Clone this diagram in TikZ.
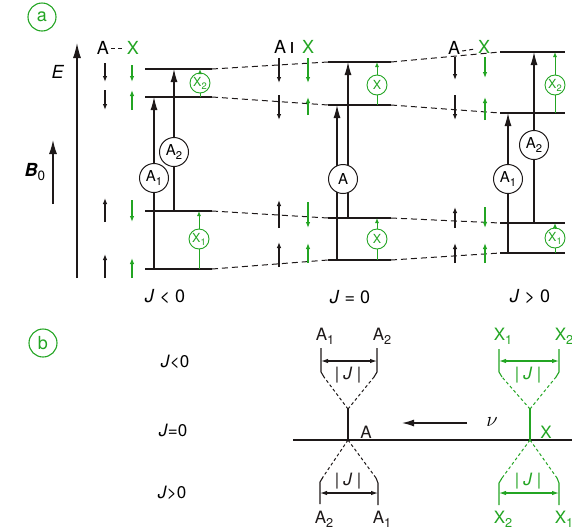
\documentclass[tikz,border=0pt]{standalone}
\usepackage{fontspec}
\setmainfont{TeX Gyre Heros}
\usepackage{graphicx}
\usetikzlibrary{arrows.meta}
\definecolor{grn}{RGB}{35,165,35}
\definecolor{ink}{RGB}{30,25,25}
\newcommand{\lo}[1]{\raisebox{-0.45ex}{\scalebox{0.75}{#1}}}
\newcommand{\absJ}{\textbar\hspace{0.25em}\textit{J}\hspace{0.25em}\textbar}
\begin{document}
\begin{tikzpicture}[x=1pt,y=-1pt,
 lev/.style={ink,line width=1.4pt},
 dsh/.style={ink,line width=1pt,dash pattern=on 6pt off 4pt},
 shortdsh/.style={line width=1pt,dash pattern=on 4pt off 3pt},
 tr/.style={ink,line width=1.1pt,-{Latex[length=13pt,width=7pt]}},
 trline/.style={ink,line width=1.1pt},
 trg/.style={grn,line width=1pt,-{Latex[length=5pt,width=4pt]}},
 trgline/.style={grn,line width=1pt},
 spin/.style={ink,line width=1.1pt,-{Latex[length=6pt,width=4.5pt]}},
 spg/.style={grn,line width=1.1pt,-{Latex[length=6pt,width=4.5pt]}},
 acirc/.style={circle,draw=ink,fill=white,line width=1pt,minimum size=29pt,inner sep=0pt,font=\fontsize{15}{15}\selectfont},
 xcirc/.style={circle,draw=grn,fill=white,line width=0.9pt,minimum size=20pt,inner sep=0pt,text=grn,font=\fontsize{12.5}{12.5}\selectfont},
 lbl/.style={inner sep=0pt,font=\fontsize{18}{18}\selectfont},
 blbl/.style={inner sep=0pt,font=\fontsize{17}{17}\selectfont},
 tag/.style={circle,draw=grn,text=grn,line width=1.1pt,minimum size=28pt,inner sep=0pt,font=\fontsize{18}{18}\selectfont},
 dotl/.style={dash pattern=on 3pt off 2.5pt,line width=1pt},
 br/.style={line width=1.1pt},
 dbl/.style={line width=1.1pt,{Latex[length=7pt,width=4.5pt]}-{Latex[length=7pt,width=4.5pt]}},
]
\useasboundingbox (0,0) rectangle (572,531);

% ---------------- panel a ----------------
\node[tag] (taga) at (42,17) {a};

% energy axis and B0
\coordinate (Ebot) at (77,278);
\coordinate (Etop) at (77,43);
\draw[ink,line width=1.2pt,-{Latex[length=15pt,width=8pt]}] (Ebot) -- (Etop);
\node[lbl] (Elab) at (58,72) {\textit{E}};
\coordinate (Bbot) at (53,204);
\coordinate (Btop) at (53,140);
\draw[ink,line width=1.2pt,-{Latex[length=14pt,width=8pt]}] (Bbot) -- (Btop);
\node[lbl] (Blab) at (35,172) {\textbf{\textit{B}}\lo{0}};

% level end points
\foreach \n/\y in {1/269,2/211,3/97,4/69}{
  \coordinate (a\n-l) at (145,\y); \coordinate (a\n-r) at (212,\y);}
\foreach \n/\y in {1/260,2/218,3/105,4/62}{
  \coordinate (b\n-l) at (328,\y); \coordinate (b\n-r) at (391,\y);}
\foreach \n/\y in {1/253,2/223,3/113,4/52}{
  \coordinate (c\n-l) at (500,\y); \coordinate (c\n-r) at (565,\y);}

% dashed correlation lines
\foreach \n in {1,2,3,4}{
  \draw[dsh] (a\n-r) -- (b\n-l);
  \draw[dsh] (b\n-r) -- (c\n-l);}

% levels
\foreach \n in {1,2,3,4}{
  \draw[lev] (a\n-l) -- (a\n-r);
  \draw[lev] (b\n-l) -- (b\n-r);
  \draw[lev] (c\n-l) -- (c\n-r);}

% column labels
\node[lbl] (lA1) at (103,48) {A};
\node[lbl,text=grn] (lX1) at (133,48) {X};
\draw[ink,shortdsh] ([xshift=2pt]lA1.east) -- ([xshift=-3pt]lX1.west);
\node[lbl] (lA2) at (280,47) {A};
\node[lbl,text=grn] (lX2) at (308,47) {X};
\coordinate (bar1) at (292,42); \coordinate (bar2) at (292,53);
\draw[ink,line width=1.1pt] (bar1) -- (bar2);
\node[lbl] (lA3) at (454,48) {A};
\node[lbl,text=grn] (lX3) at (484,47) {X};
\draw[ink,shortdsh] ([xshift=2pt,yshift=-3pt]lA3.east) -- ([xshift=-3pt,yshift=-2pt]lX3.west);

% spin arrows
\foreach \x/\ya/\yb in {105/63/82, 105/90/110, 105/222/198, 105/278/254,
                       279/58/83, 279/95/120, 279/228/200, 279/267/242,
                       455/57/80, 455/95/120, 455/228/207, 455/263/243}{
  \draw[spin] (\x,\ya) -- (\x,\yb);}
\foreach \x/\ya/\yb in {132/65/82, 132/110/90, 132/200/222, 132/278/258,
                       308/58/83, 308/115/97, 308/202/228, 308/263/243,
                       485/57/78, 485/120/97, 485/207/228, 485/263/243}{
  \draw[spg] (\x,\ya) -- (\x,\yb);}

% diagram J<0
\node[acirc] (A1a) at (154,178) {A\lo{1}};
\node[acirc] (A2a) at (174,152) {A\lo{2}};
\draw[tr] (A1a) -- (A1a |- a3-l);
\draw[trline] (A1a) -- (A1a |- a1-l);
\draw[tr] (A2a) -- (A2a |- a4-l);
\draw[trline] (A2a) -- (A2a |- a2-l);
\node[xcirc] (X2a) at (200,83) {X\lo{2}};
\node[xcirc] (X1a) at (199,239) {X\lo{1}};
\draw[trg] (X2a) -- (X2a |- a4-l);
\draw[trgline] (X2a) -- (X2a |- a3-l);
\draw[trg] (X1a) -- (X1a |- a2-l);
\draw[trgline] (X1a) -- (X1a |- a1-l);
\node[lbl] (Jneg) at (165,297) {\textit{J} < 0};

% diagram J=0
\coordinate (bA1) at (337,260); \coordinate (bA3) at (337,105);
\coordinate (bA2) at (348,218); \coordinate (bA4) at (348,62);
\draw[tr] (bA1) -- (bA3);
\draw[tr] (bA2) -- (bA4);
\node[acirc] (Ab) at (343,179) {A};
\node[xcirc] (Xbt) at (377,85) {X};
\node[xcirc] (Xbb) at (377,239) {X};
\draw[trg] (Xbt) -- (Xbt |- b4-l);
\draw[trgline] (Xbt) -- (Xbt |- b3-l);
\draw[trg] (Xbb) -- (Xbb |- b2-l);
\draw[trgline] (Xbb) -- (Xbb |- b1-l);
\node[lbl] (Jzero) at (350,297) {\textit{J} = 0};

% diagram J>0
\node[acirc] (A1c) at (508,179) {A\lo{1}};
\node[acirc] (A2c) at (534,145) {A\lo{2}};
\draw[tr] (A1c) -- (A1c |- c3-l);
\draw[trline] (A1c) -- (A1c |- c1-l);
\draw[tr] (A2c) -- (A2c |- c4-l);
\draw[trline] (A2c) -- (A2c |- c2-l);
\node[xcirc] (X2c) at (555,85) {X\lo{2}};
\node[xcirc] (X1c) at (555,238) {X\lo{1}};
\draw[trg] (X2c) -- (X2c |- c4-l);
\draw[trgline] (X2c) -- (X2c |- c3-l);
\draw[trg] (X1c) -- (X1c |- c2-l);
\draw[trgline] (X1c) -- (X1c |- c1-l);
\node[lbl] (Jpos) at (530,297) {\textit{J} > 0};

% ---------------- panel b ----------------
\node[tag] (tagb) at (43,343) {b};
\node[blbl] (bJneg) at (175,362) {\textit{J}<0};
\node[blbl] (bJzero) at (173,430) {\textit{J}=0};
\node[blbl] (bJpos) at (172,493) {\textit{J}>0};

\coordinate (base1) at (293,440); \coordinate (base2) at (572,440);
\draw[ink,line width=1.2pt] (base1) -- (base2);

% A multiplet
\begin{scope}[ink]
\coordinate (Aj) at (348,440); \coordinate (Ajt) at (348,409);
\draw[br] (Aj) -- (Ajt);
\coordinate (Aul) at (324,377); \coordinate (Aur) at (374,377);
\draw[dotl] (Ajt) -- (Aul); \draw[dotl] (Ajt) -- (Aur);
\draw[br] (321,348) -- (321,372) -- (Aul);
\draw[br] (377,348) -- (377,372) -- (Aur);
\coordinate (Aal) at (321,361); \coordinate (Aar) at (377,361);
\draw[dbl] (Aal) -- (Aar);
\node[blbl] (AJu) at (348,375) {\absJ};
\node[blbl] (At1) at (325,336) {A\lo{1}};
\node[blbl] (At2) at (382,336) {A\lo{2}};
\coordinate (All) at (323,477); \coordinate (Alr) at (376,478);
\draw[dotl] (Aj) -- (All); \draw[dotl] (Aj) -- (Alr);
\draw[br] (320,504) -- (320,482) -- (All);
\draw[br] (378,505) -- (378,483) -- (Alr);
\coordinate (Abl) at (320,493); \coordinate (Abr) at (378,493);
\draw[dbl] (Abl) -- (Abr);
\node[blbl] (AJl) at (348,481) {\absJ};
\node[blbl] (Ab2) at (324,519) {A\lo{2}};
\node[blbl] (Ab1) at (382,519) {A\lo{1}};
\node[blbl] (Alab) at (366,432) {A};
\end{scope}

% nu arrow
\coordinate (nu1) at (467,423); \coordinate (nu2) at (402,423);
\draw[ink,line width=1.2pt,-{Latex[length=12pt,width=7pt]}] (nu1) -- (nu2);
\node[inner sep=0pt,font=\fontsize{21}{21}\selectfont] (nulab) at (492,422) {$\nu$};

% X multiplet
\begin{scope}[grn]
\coordinate (Xj) at (530,440); \coordinate (Xjt) at (530,409);
\draw[br] (Xj) -- (Xjt);
\coordinate (Xul) at (502,377); \coordinate (Xur) at (556,377);
\draw[dotl] (Xjt) -- (Xul); \draw[dotl] (Xjt) -- (Xur);
\draw[br] (499,349) -- (499,372) -- (Xul);
\draw[br] (559,349) -- (559,372) -- (Xur);
\coordinate (Xal) at (499,361); \coordinate (Xar) at (559,361);
\draw[dbl] (Xal) -- (Xar);
\node[blbl,text=grn] (XJu) at (528,375) {\absJ};
\node[blbl,text=grn] (Xt1) at (503,336) {X\lo{1}};
\node[blbl,text=grn] (Xt2) at (564,336) {X\lo{2}};
\coordinate (Xll) at (502,478); \coordinate (Xlr) at (557,478);
\draw[dotl] (Xj) -- (Xll); \draw[dotl] (Xj) -- (Xlr);
\draw[br] (499,505) -- (499,483) -- (Xll);
\draw[br] (559,505) -- (559,483) -- (Xlr);
\coordinate (Xbl) at (499,493); \coordinate (Xbr) at (559,493);
\draw[dbl] (Xbl) -- (Xbr);
\node[blbl,text=grn] (XJl) at (528,481) {\absJ};
\node[blbl,text=grn] (Xb2) at (503,519) {X\lo{2}};
\node[blbl,text=grn] (Xb1) at (564,519) {X\lo{1}};
\node[blbl,text=grn] (Xlab) at (546,432) {X};
\end{scope}
\end{tikzpicture}
\end{document}
